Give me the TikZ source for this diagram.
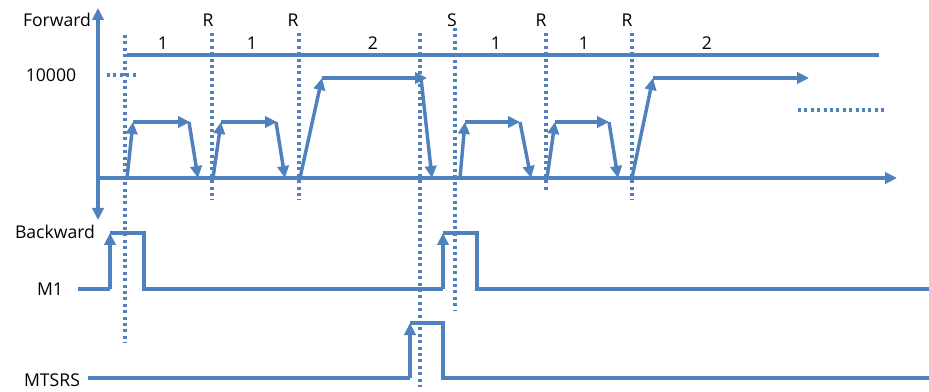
\documentclass[tikz,border=0pt]{standalone}
\usepackage{fontspec}
\setmainfont{Open Sans}
\usetikzlibrary{arrows.meta}
\definecolor{bl}{RGB}{79,129,189}
\begin{document}
\begin{tikzpicture}[x=0.75pt,y=-0.75pt,
  sig/.style={draw=bl, line width=2.6pt, line join=miter},
  arr/.style={sig, -{Triangle[length=9pt,width=8.5pt]}},
  dotl/.style={draw=bl, line width=2.3pt, dash pattern=on 2.2pt off 2.6pt},
  lab/.style={font=\fontsize{13.2}{16}\selectfont, text=black, inner sep=0pt}]
\useasboundingbox (0,0) rectangle (929,392);
% labels
\node[lab] (fw) at (57,20) {Forward};
\node[lab] (bw) at (55,232) {Backward};
\node[lab] (m1) at (50,289) {M1};
\node[lab] (mt) at (52,380) {MTSRS};
\node[lab] (tenk) at (51,75) {10000};
\node[lab] (r1) at (208,20) {R};
\node[lab] (r2) at (293,20) {R};
\node[lab] (s1) at (452,20) {S};
\node[lab] (r3) at (541,20) {R};
\node[lab] (r4) at (627,20) {R};
\node[lab] (n1) at (163,43) {1};
\node[lab] (n2) at (252,43) {1};
\node[lab] (n3) at (373,43) {2};
\node[lab] (n4) at (496,43) {1};
\node[lab] (n5) at (584,43) {1};
\node[lab] (n6) at (707,43) {2};
% axes
\draw[sig, {Triangle[length=9pt,width=8.5pt]}-{Triangle[length=9pt,width=8.5pt]}] (98,220) -- (98,8);
\draw[arr] (98,178) -- (897,178);
\draw[sig] (127,55) -- (879,55);
% dotted markers
\draw[dotl] (107,75) -- (137,75);
\draw[dotl] (798,110) -- (887,110);
\draw[dotl] (125,35) -- (125,343);
\draw[dotl] (212,33) -- (212,200);
\draw[dotl] (299,33) -- (299,200);
\draw[dotl] (420,33) -- (420,387);
\draw[dotl] (455,28) -- (455,310);
\draw[dotl] (546,33) -- (546,190);
\draw[dotl] (632,33) -- (632,200);
% forward pulses
\draw[arr] (127,178) -- (133,122);
\draw[arr] (133,122) -- (190,122);
\draw[arr] (189,122) -- (198,178);
\draw[arr] (213,178) -- (221,122);
\draw[arr] (221,122) -- (277,122);
\draw[arr] (276,122) -- (285,178);
\draw[arr] (300,178) -- (322,78);
\draw[arr] (322,78) -- (427,78);
\draw[arr] (421,78) -- (432,178);
\draw[arr] (460,178) -- (465,122);
\draw[arr] (465,122) -- (520,122);
\draw[arr] (520,122) -- (531,178);
\draw[arr] (547,178) -- (555,122);
\draw[arr] (555,122) -- (609,122);
\draw[arr] (609,122) -- (618,178);
\draw[arr] (632,178) -- (653,78);
\draw[arr] (653,78) -- (809,78);
% M1
\draw[sig] (78,289) -- (110,289);
\draw[arr] (110,289) -- (110,233);
\draw[sig] (110,233) -- (144,233) -- (144,289) -- (443,289);
\draw[arr] (443,289) -- (443,233);
\draw[sig] (443,233) -- (477,233) -- (477,289) -- (929,289);
% MTSRS
\draw[sig] (88,378) -- (410,378);
\draw[arr] (410,378) -- (410,323);
\draw[sig] (410,323) -- (443,323) -- (443,378) -- (929,378);
\end{tikzpicture}
\end{document}
